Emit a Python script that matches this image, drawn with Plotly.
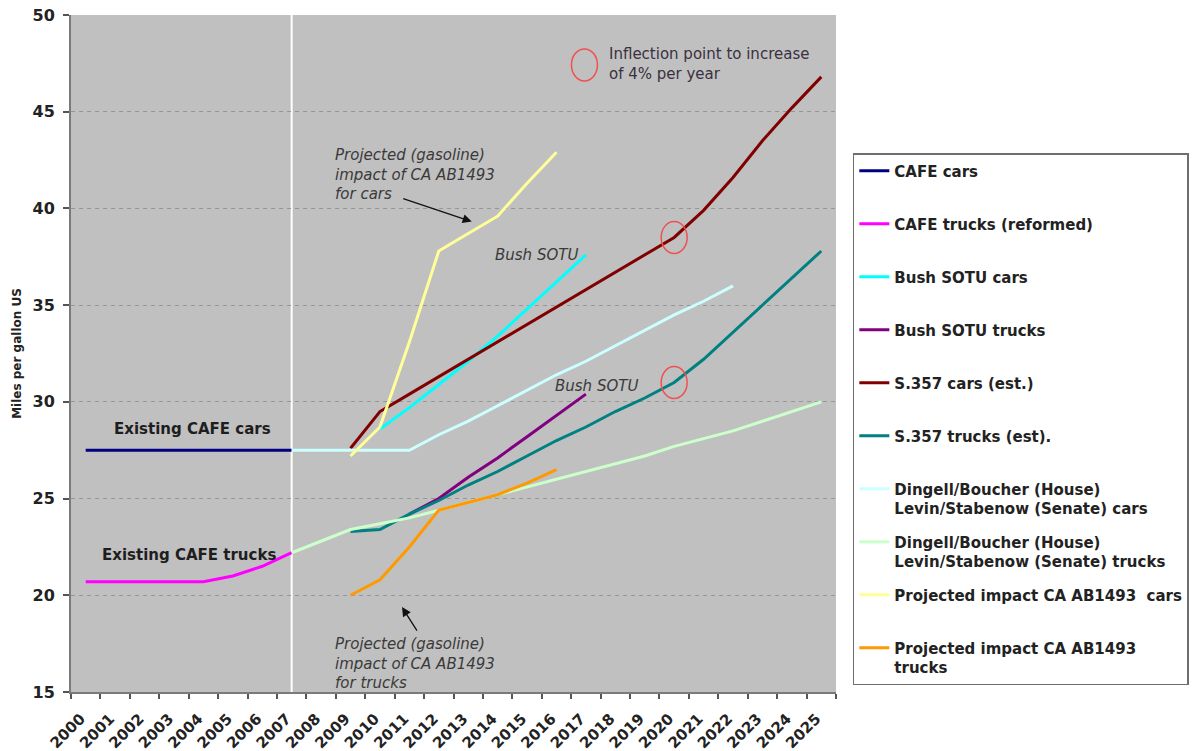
import plotly.graph_objects as go

# ---------------- data ----------------
YEARS = list(range(2000, 2026))
YEAR_LABELS = [str(y) for y in YEARS]
N = None

CAFE_CARS = [27.5, 27.5, 27.5, 27.5, 27.5, 27.5, 27.5, 27.5,
             N, N, N, N, N, N, N, N, N, N, N, N, N, N, N, N, N, N]
CAFE_TRUCKS = [20.7, 20.7, 20.7, 20.7, 20.7, 21.0, 21.5, 22.2,
               N, N, N, N, N, N, N, N, N, N, N, N, N, N, N, N, N, N]
BUSH_CARS = [N, N, N, N, N, N, N, N, N, N,
             28.6, 29.7, 30.9, 32.1, 33.4, 34.8, 36.2, 37.6,
             N, N, N, N, N, N, N, N]
BUSH_TRUCKS = [N, N, N, N, N, N, N, N, N, N, N,
               24.2, 25.0, 26.1, 27.1, 28.2, 29.3, 30.4,
               N, N, N, N, N, N, N, N]
S357_CARS = [N, N, N, N, N, N, N, N, N,
             27.6, 29.5, 30.4, 31.3, 32.2, 33.1, 34.0, 34.9, 35.8, 36.7, 37.6,
             38.5, 39.9, 41.6, 43.5, 45.2, 46.8]
S357_TRUCKS = [N, N, N, N, N, N, N, N, N,
               23.3, 23.4, 24.2, 24.9, 25.7, 26.4, 27.2, 28.0, 28.7, 29.5, 30.2,
               31.0, 32.2, 33.6, 35.0, 36.4, 37.8]
DINGELL_CARS = [N, N, N, N, N, N, N,
                27.5, 27.5, 27.5, 27.5, 27.5, 28.3, 29.0, 29.8, 30.6, 31.4, 32.1,
                32.9, 33.7, 34.5, 35.2, 36.0, N, N, N]
DINGELL_TRUCKS = [N, N, N, N, N, N, N,
                  22.2, 22.8, 23.4, 23.7, 24.0, 24.4, 24.8, 25.2, 25.6, 26.0, 26.4,
                  26.8, 27.2, 27.7, 28.1, 28.5, 29.0, 29.5, 30.0]
CA_CARS = [N, N, N, N, N, N, N, N, N,
           27.2, 28.7, 33.1, 37.8, 38.7, 39.6, 41.3, 42.9,
           N, N, N, N, N, N, N, N, N]
CA_TRUCKS = [N, N, N, N, N, N, N, N, N,
             20.0, 20.8, 22.5, 24.4, 24.8, 25.2, 25.8, 26.5,
             N, N, N, N, N, N, N, N, N]

SERIES_NAMES = [
    "CAFE cars",
    "CAFE trucks (reformed)",
    "Bush SOTU cars",
    "Bush SOTU trucks",
    "S.357 cars (est.)",
    "S.357 trucks (est).",
    "Dingell/Boucher (House)<br>Levin/Stabenow (Senate) cars",
    "Dingell/Boucher (House)<br>Levin/Stabenow (Senate) trucks",
    "Projected impact CA AB1493  cars",
    "Projected impact CA AB1493<br>trucks",
]
SERIES_VALUES = [CAFE_CARS, CAFE_TRUCKS, BUSH_CARS, BUSH_TRUCKS, S357_CARS,
                 S357_TRUCKS, DINGELL_CARS, DINGELL_TRUCKS, CA_CARS, CA_TRUCKS]
SERIES_COLORS = ["#000080", "#FF00FF", "#00FFFF", "#800080", "#800000",
                 "#008080", "#CCFFFF", "#CCFFCC", "#FFFF99", "#FF9900"]

Y_TICKS = [15, 20, 25, 30, 35, 40, 45, 50]
DIVIDER_YEAR = 2007
INFLECTION_POINTS = [(2020, 38.5), (2020, 31.0)]

FONT = "DejaVu Sans"

fig = go.Figure()
for i, (name, vals, col) in enumerate(zip(SERIES_NAMES, SERIES_VALUES, SERIES_COLORS)):
    label = name if "<br>" in name else name + "<br>&nbsp;"
    fig.add_trace(go.Scatter(
        x=YEARS, y=vals, mode="lines", name=label,
        line=dict(color=col, width=3),
        legendgroup="g%d" % i,
    ))

shapes = [
    dict(type="line", xref="x", yref="paper", x0=DIVIDER_YEAR, x1=DIVIDER_YEAR,
         y0=0, y1=1, line=dict(color="white", width=2), layer="below"),
]
for (xv, yv) in INFLECTION_POINTS:
    shapes.append(dict(type="circle", xref="x", yref="y", xsizemode="pixel",
                       ysizemode="pixel", xanchor=xv, yanchor=yv,
                       x0=-13, x1=13, y0=-16, y1=16,
                       line=dict(color="#F05050", width=1.5)))
shapes.append(dict(type="circle", xref="x", yref="y", xsizemode="pixel",
                   ysizemode="pixel", xanchor=2016.95, yanchor=47.42,
                   x0=-13, x1=13, y0=-16, y1=16,
                   line=dict(color="#F05050", width=1.5)))

ital = dict(family=FONT, size=15, color="#3a3a3a")
bold = dict(family=FONT, size=15, color="#1e1e1e", weight="bold")
annotations = [
    dict(x=2003.63, y=28.6, text="Existing CAFE cars", showarrow=False, font=bold),
    dict(x=2003.5, y=22.08, text="Existing CAFE trucks", showarrow=False, font=bold),
    dict(x=2008.39, y=41.73, xanchor="left", align="left", showarrow=False, font=ital,
         text="<i>Projected (gasoline)<br>impact of CA AB1493<br>for cars</i>"),
    dict(x=2008.4, y=16.45, xanchor="left", align="left", showarrow=False, font=ital,
         text="<i>Projected (gasoline)<br>impact of CA AB1493<br>for trucks</i>"),
    dict(x=2013.83, y=37.6, xanchor="left", showarrow=False, font=ital, text="<i>Bush SOTU</i>"),
    dict(x=2015.88, y=30.8, xanchor="left", showarrow=False, font=ital, text="<i>Bush SOTU</i>"),
    dict(x=2017.71, y=47.47, xanchor="left", align="left", showarrow=False,
         font=dict(family=FONT, size=15, color="#3a3040"),
         text="Inflection point to increase<br>of 4% per year"),
    dict(x=2013.12, y=39.32, ax=2010.74, ay=40.53, axref="x", ayref="y", text="",
         showarrow=True, arrowhead=2, arrowsize=1.4, arrowwidth=1.3, arrowcolor="#111"),
    dict(x=2010.75, y=19.39, ax=2011.29, ay=18.10, axref="x", ayref="y", text="",
         showarrow=True, arrowhead=2, arrowsize=1.4, arrowwidth=1.3, arrowcolor="#111"),
]

fig.update_layout(
    width=1202, height=751,
    margin=dict(l=63, r=374, t=7, b=67, autoexpand=False),
    paper_bgcolor="white", plot_bgcolor="#C0C0C0",
    font=dict(family=FONT, color="#222"),
    showlegend=True,
    legend=dict(x=1.022, y=0.796, xanchor="left", yanchor="top",
                bgcolor="white", bordercolor="#6e6e6e", borderwidth=1.5,
                font=dict(family=FONT, size=15, color="#222", weight="bold"),
                valign="top", tracegroupgap=11, traceorder="grouped"),
    shapes=shapes,
    annotations=annotations,
    xaxis=dict(range=[1999.5, 2025.5], tickmode="array", tickvals=YEARS,
               ticktext=YEAR_LABELS, tickangle=-45, ticks="", automargin=False,
               tickfont=dict(family=FONT, size=15, color="#222", weight="bold"),
               ticklabelstandoff=10, ticklabelshift=-5,
               showline=True, linecolor="#7a7a7a", linewidth=2,
               showgrid=False, zeroline=False,
               minor=dict(tickmode="array", tickvals=[y - 0.5 for y in YEARS] + [2025.5],
                          ticks="outside", ticklen=5, tickcolor="#555", tickwidth=1.5,
                          showgrid=False)),
    yaxis=dict(range=[15, 50], tickmode="array", tickvals=Y_TICKS, automargin=False,
               ticks="outside", ticklen=6, tickcolor="#555", tickwidth=1.5,
               ticklabelstandoff=5, ticklabeloverflow="allow",
               tickfont=dict(family=FONT, size=16, color="#222", weight="bold"),
               showline=True, linecolor="#7a7a7a", linewidth=2,
               showgrid=True, gridcolor="#969696", griddash="4px,4px", gridwidth=1,
               zeroline=False,
               title=dict(text="Miles per gallon US", standoff=8,
                          font=dict(family=FONT, size=12, color="#222", weight="bold"))),
)

fig.write_html("out.html")
